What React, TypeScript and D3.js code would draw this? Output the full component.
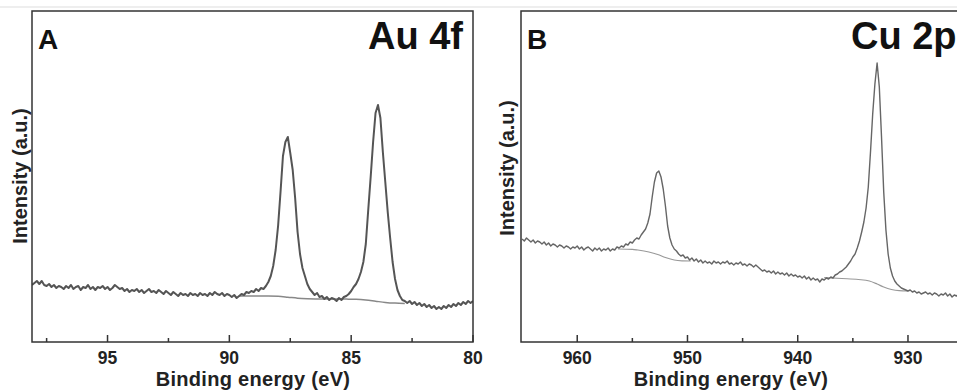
import React from 'react';
import * as d3 from 'd3';

// ---------- Panel A: Au 4f (binding energy grid 98.1 -> 80.0 eV, step 0.1) ----------
const AU_START = 98.1;
const AU_STEP = 0.1;
const auIntensity = [
  57, 59, 61, 58, 61, 57, 56, 58, 55, 57, // 98.1 - 97.2
  54, 56, 55, 53, 56, 54, 57, 53, 55, 56, // 97.1 - 96.2
  52, 55, 54, 57, 53, 55, 52, 55, 54, 56, // 96.1 - 95.2
  53, 55, 52, 54, 57, 55, 53, 54, 51, 53, // 95.1 - 94.2
  50, 52, 51, 53, 50, 52, 49, 51, 53, 50, // 94.1 - 93.2
  51, 49, 52, 50, 48, 51, 49, 47, 50, 48, // 93.1 - 92.2
  46, 49, 47, 48, 46, 49, 47, 48, 46, 49, // 92.1 - 91.2
  47, 48, 46, 49, 47, 50, 48, 47, 49, 46, // 91.1 - 90.2
  48, 47, 45, 47, 44, 46, 48, 47, 50, 49, // 90.1 - 89.2
  51, 50, 53, 51, 54, 53, 56, 60, 66, 76, // 89.1 - 88.2
  92, 116, 150, 186, 200, 205, 189, 172, 144, 110, // 88.1 - 87.2
  88, 74, 66, 58, 53, 50, 47, 49, 45, 46, // 87.1 - 86.2
  43, 45, 42, 44, 43, 41, 44, 42, 45, 46, // 86.1 - 85.2
  48, 51, 55, 58, 63, 70, 80, 98, 132, 165, // 85.1 - 84.2
  200, 229, 237, 224, 190, 160, 130, 104, 80, 63, // 84.1 - 83.2
  52, 46, 42, 41, 39, 41, 38, 40, 37, 39, // 83.1 - 82.2
  36, 38, 35, 37, 34, 36, 33, 35, 33, 36, // 82.1 - 81.2
  34, 37, 35, 38, 36, 39, 37, 40, 38, 41, // 81.1 - 80.2
  39, 41, // 80.1 - 80.0
];
const auBgEnergy = [89.6, 89.2, 88.8, 88.4, 88.0, 87.6, 87.2, 86.8, 86.4, 86.0, 85.6, 85.2, 84.8, 84.4, 84.0, 83.6, 83.2, 82.8];
const auBgIntensity = [46, 46, 46, 46, 45.7, 44.8, 43.8, 43.3, 43.1, 43, 43, 42.9, 42.7, 42, 40.8, 39.6, 38.9, 38.6];
const auMajorTicks = [95, 90, 85, 80];
const auMinorTicks = [97.5, 92.5, 87.5, 82.5];

// ---------- Panel B: Cu 2p (binding energy grid 965.0 -> 925.0 eV, step 0.2) ----------
const CU_START = 965.0;
const CU_STEP = 0.2;
const cuIntensity = [
  103, 101, 104, 102, 100, 102, 99, 101, 100, 98, // 965.0 - 963.2
  100, 97, 99, 96, 98, 97, 95, 97, 96, 94, // 963.0 - 961.2
  96, 95, 93, 95, 94, 96, 93, 95, 92, 94, // 961.0 - 959.2
  95, 93, 91, 94, 92, 94, 91, 93, 92, 94, // 959.0 - 957.2
  91, 93, 92, 95, 94, 96, 95, 98, 97, 100, // 957.0 - 955.2
  99, 102, 104, 103, 107, 110, 113, 119, 128, 145, // 955.0 - 953.2
  160, 169, 171, 165, 153, 136, 116, 104, 97, 93, // 953.0 - 951.2
  91, 88, 86, 87, 84, 85, 82, 84, 81, 83, // 951.0 - 949.2
  80, 82, 79, 81, 79, 80, 78, 81, 79, 80, // 949.0 - 947.2
  78, 80, 79, 81, 78, 79, 77, 79, 78, 80, // 947.0 - 945.2
  77, 78, 76, 78, 77, 75, 77, 75, 73, 71, // 945.0 - 943.2
  72, 70, 71, 69, 71, 68, 70, 68, 69, 67, // 943.0 - 941.2
  69, 66, 68, 66, 67, 65, 66, 64, 66, 63, // 941.0 - 939.2
  65, 62, 64, 62, 63, 60, 63, 62, 64, 63, // 939.0 - 937.2
  65, 64, 67, 68, 70, 71, 73, 75, 78, 81, // 937.0 - 935.2
  85, 88, 94, 101, 110, 120, 134, 155, 190, 228, // 935.0 - 933.2
  258, 279, 255, 205, 150, 112, 88, 74, 66, 61, // 933.0 - 931.2
  58, 56, 54, 53, 52, 51, 52, 50, 51, 49, // 931.0 - 929.2
  50, 48, 49, 50, 48, 49, 47, 49, 48, 46, // 929.0 - 927.2
  48, 47, 49, 46, 48, 45, 47, 46, 48, 46, // 927.0 - 925.2
  47, // 925.0
];
const cuBg1Energy = [956.3, 955.0, 954.5, 953.5, 952.7, 952.0, 951.2, 950.5, 949.7];
const cuBg1Intensity = [93, 92.7, 92, 90, 87.5, 84.5, 82, 81.2, 81];
const cuBg2Energy = [937.6, 936.0, 934.5, 933.5, 932.8, 932.2, 931.5, 930.8, 930.0];
const cuBg2Intensity = [64.5, 63.5, 62.5, 61, 58, 55, 52.5, 51.3, 51];
const cuMajorTicks = [960, 950, 940, 930];
const cuMinorTicks = [955, 945, 935];

const FONT = '"Liberation Sans", Arial, Helvetica, sans-serif';

type Pt = [number, number];

interface PanelProps {
  id: string;
  left: number;
  top: number;
  width: number;
  height: number;
  domain: [number, number];
  spectrum: Pt[];
  backgrounds: Pt[][];
  major: number[];
  minor: number[];
  letter: string;
  title: string;
  titleX: number;
  titleAnchor: 'start' | 'end';
  yLabelX: number;
  yLabelY: number;
  xLabelX: number;
  lineColor: string;
  lineWidth: number;
  bgColor: string;
  bgWidth: number;
}

function Panel(p: PanelProps) {
  const x = d3.scaleLinear().domain(p.domain).range([p.left, p.left + p.width]);
  const y = d3.scaleLinear().domain([0, 331]).range([p.top + p.height, p.top]);
  const line = d3.line<Pt>().x((d) => x(d[0])).y((d) => y(d[1]));
  const bgLine = d3
    .line<Pt>()
    .x((d) => x(d[0]))
    .y((d) => y(d[1]))
    .curve(d3.curveMonotoneX);
  const bottom = p.top + p.height;
  return (
    <g>
      <defs>
        <clipPath id={p.id}>
          <rect x={p.left} y={p.top} width={p.width} height={p.height} />
        </clipPath>
      </defs>
      <g clipPath={`url(#${p.id})`}>
        {p.backgrounds.map((bg, i) => (
          <path key={i} d={bgLine(bg) || ''} fill="none" stroke={p.bgColor} strokeWidth={p.bgWidth} />
        ))}
        <path d={line(p.spectrum) || ''} fill="none" stroke={p.lineColor} strokeWidth={p.lineWidth} strokeLinejoin="round" />
      </g>
      <rect x={p.left} y={p.top} width={p.width} height={p.height} fill="none" stroke="#333" strokeWidth={1.5} />
      {p.major.map((t) => (
        <g key={'M' + t}>
          <line x1={x(t)} x2={x(t)} y1={bottom} y2={bottom - 7} stroke="#333" strokeWidth={1.5} />
          <text x={x(t)} y={363.5} textAnchor="middle" fontFamily={FONT} fontWeight="bold" fontSize={17.5} fill="#222">
            {t}
          </text>
        </g>
      ))}
      {p.minor.map((t) => (
        <line key={'m' + t} x1={x(t)} x2={x(t)} y1={bottom} y2={bottom - 4} stroke="#333" strokeWidth={1.5} />
      ))}
      <text
        x={p.xLabelX}
        y={385.5}
        textAnchor="middle"
        fontFamily={FONT}
        fontWeight="bold"
        fontSize={20}
        letterSpacing={0.3}
        fill="#222"
      >
        Binding energy (eV)
      </text>
      <text
        transform={`translate(${p.yLabelX},${p.yLabelY}) rotate(-90)`}
        textAnchor="middle"
        fontFamily={FONT}
        fontWeight="bold"
        fontSize={20}
        fill="#222"
      >
        Intensity (a.u.)
      </text>
      <text x={p.left + 6} y={49} fontFamily={FONT} fontWeight="bold" fontSize={28} fill="#111">
        {p.letter}
      </text>
      <text x={p.titleX} y={49} textAnchor={p.titleAnchor} fontFamily={FONT} fontWeight="bold" fontSize={38} fill="#111">
        {p.title}
      </text>
    </g>
  );
}

export default function App() {
  const auSpectrum: Pt[] = auIntensity.map((v, i) => [AU_START - i * AU_STEP, v]);
  const auBg: Pt[] = auBgEnergy.map((e, i) => [e, auBgIntensity[i]]);
  const cuSpectrum: Pt[] = cuIntensity.map((v, i) => [CU_START - i * CU_STEP, v]);
  const cuBg1: Pt[] = cuBg1Energy.map((e, i) => [e, cuBg1Intensity[i]]);
  const cuBg2: Pt[] = cuBg2Energy.map((e, i) => [e, cuBg2Intensity[i]]);

  return (
    <svg
      width={957}
      height={391}
      style={{ position: 'absolute', left: 0, top: 0, background: '#fff', overflow: 'hidden' }}
    >
      <rect x={0} y={0} width={957} height={391} fill="#fff" />
      <line x1={0} x2={957} y1={7} y2={7} stroke="#ddd" strokeWidth={1} />
      <Panel
        id="clipA"
        left={32}
        top={11}
        width={441}
        height={331}
        domain={[98.1, 80]}
        spectrum={auSpectrum}
        backgrounds={[auBg]}
        major={auMajorTicks}
        minor={auMinorTicks}
        letter="A"
        title="Au 4f"
        titleX={463}
        titleAnchor="end"
        yLabelX={27}
        yLabelY={176}
        xLabelX={253}
        lineColor="#555"
        lineWidth={2}
        bgColor="#888"
        bgWidth={1.5}
      />
      <Panel
        id="clipB"
        left={521}
        top={11}
        width={441}
        height={331}
        domain={[965.1, 925.1]}
        spectrum={cuSpectrum}
        backgrounds={[cuBg1, cuBg2]}
        major={cuMajorTicks}
        minor={cuMinorTicks}
        letter="B"
        title="Cu 2p"
        titleX={851}
        titleAnchor="start"
        yLabelX={514}
        yLabelY={168}
        xLabelX={731}
        lineColor="#666"
        lineWidth={1.4}
        bgColor="#999"
        bgWidth={1.2}
      />
    </svg>
  );
}
